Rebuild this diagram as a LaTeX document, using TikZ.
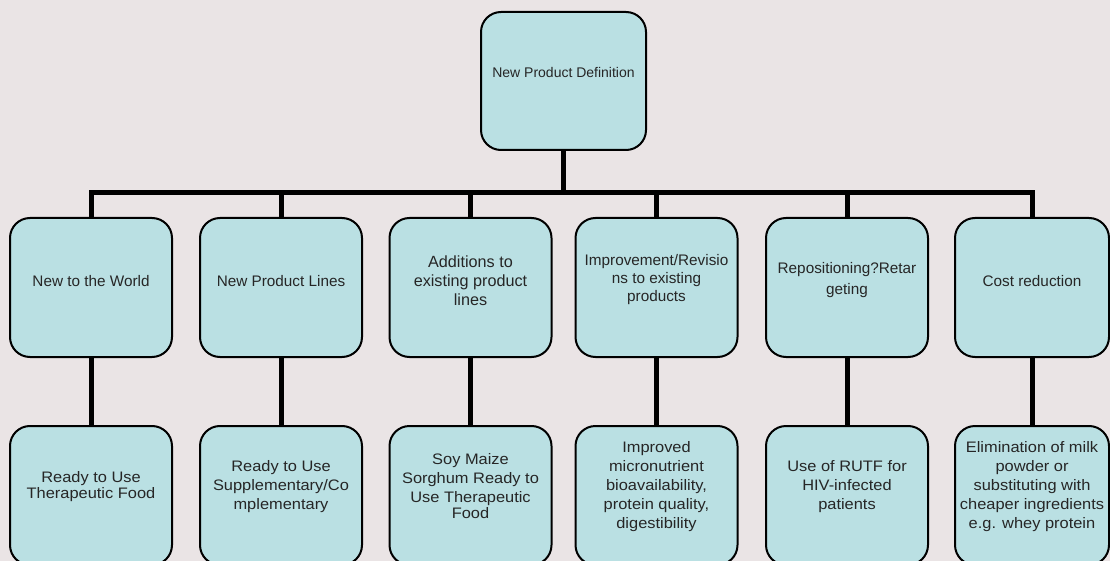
\documentclass[tikz,border=0pt]{standalone}
\usepackage{fontspec}
\setmainfont{Liberation Sans}
\newfontfamily\lowfont[FakeStretch=1.08]{Liberation Sans}
\usetikzlibrary{calc}
\definecolor{bgpink}{RGB}{234,228,229}
\definecolor{boxcyan}{RGB}{186,224,227}
\tikzset{
	box/.style={draw=black, line width=2pt, fill=boxcyan, rounded corners=20pt, minimum width=162pt, minimum height=139pt, inner sep=0pt},
	toptext/.style={align=center, text=black!85, font=\fontsize{14}{17}\selectfont},
	midtext/.style={align=center, text=black!85, font=\fontsize{15.3}{18}\selectfont},
	lowtext/.style={align=center, text=black!85, font=\lowfont\fontsize{15.2}{19}\selectfont},
	link/.style={line width=5pt}
}

\begin{document}
\begin{tikzpicture}[x=1pt,y=-1pt]
	\clip (0,0) rectangle (1110,561);
	\fill [bgpink] (0,0) rectangle (1110,561);
	% top of the tree
	\node [box, minimum width=165pt, minimum height=138pt] (top) at (563.5,81) {};
	\node [toptext] (topt) at ([yshift=9]top.center) {New Product Definition};
	\coordinate (bar) at (563.5,193);
	% kinds of new products
	\node [box] (m1) at (91,287.5) {};
	\node [box] (m2) at (281,287.5) {};
	\node [box] (m3) at (470.5,287.5) {};
	\node [box] (m4) at (656.5,287.5) {};
	\node [box] (m5) at (847,287.5) {};
	\node [box, minimum width=154pt] (m6) at (1032,287.5) {};
	\node [midtext] (m1t) at ([yshift=6.5]m1.center) {New to the World};
	\node [midtext] (m2t) at ([yshift=6.5]m2.center) {New Product Lines};
	\node [midtext, font=\fontsize{16.2}{19}\selectfont] (m3t) at ([yshift=7]m3.center) {Additions to\\existing product\\lines};
	\node [midtext] (m4t) at ([yshift=8]m4.center) {Improvement/Revisio\\ns to existing\\products};
	\node [midtext] (m5t) at ([yshift=7.5]m5.center) {Repositioning?Retar\\[3pt]geting};
	\node [midtext] (m6t) at ([yshift=6]m6.center) {Cost reduction};
	% examples
	\node [box] (b1) at (91,495.5) {};
	\node [box] (b2) at (281,495.5) {};
	\node [box] (b3) at (470.5,495.5) {};
	\node [box] (b4) at (656.5,495.5) {};
	\node [box] (b5) at (847,495.5) {};
	\node [box, minimum width=154pt] (b6) at (1032,495.5) {};
	\node [lowtext] (b1t) at ([yshift=8.5]b1.center) {Ready to Use\\[-3pt]Therapeutic Food};
	\node [lowtext] (b2t) at ([yshift=8.5]b2.center) {Ready to Use\\Supplementary/Co\\mplementary};
	\node [lowtext] (b3t) at ([yshift=9.5]b3.center) {Soy Maize\\Sorghum Ready to\\Use Therapeutic\\[-3pt]Food};
	\node [lowtext] (b4t) at ([yshift=8.5]b4.center) {Improved\\micronutrient\\bioavailability,\\protein quality,\\digestibility};
	\node [lowtext] (b5t) at ([yshift=8.5]b5.center) {Use of RUTF for\\HIV-infected\\patients};
	\node [lowtext] (b6t) at ([yshift=8.5]b6.center) {Elimination of milk\\powder or\\substituting with\\cheaper ingredients\\e.g. whey protein};
	% connectors
	\draw [link] (top.south) -- (top.south |- bar) -| (m1.north);
	\draw [link] (top.south) -- (top.south |- bar) -| (m2.north);
	\draw [link] (top.south) -- (top.south |- bar) -| (m3.north);
	\draw [link] (top.south) -- (top.south |- bar) -| (m4.north);
	\draw [link] (top.south) -- (top.south |- bar) -| (m5.north);
	\draw [link] (top.south) -- (top.south |- bar) -| (m6.north);
	\draw [link] (m1.south) -- (b1.north);
	\draw [link] (m2.south) -- (b2.north);
	\draw [link] (m3.south) -- (b3.north);
	\draw [link] (m4.south) -- (b4.north);
	\draw [link] (m5.south) -- (b5.north);
	\draw [link] (m6.south) -- (b6.north);
\end{tikzpicture}
\end{document}
